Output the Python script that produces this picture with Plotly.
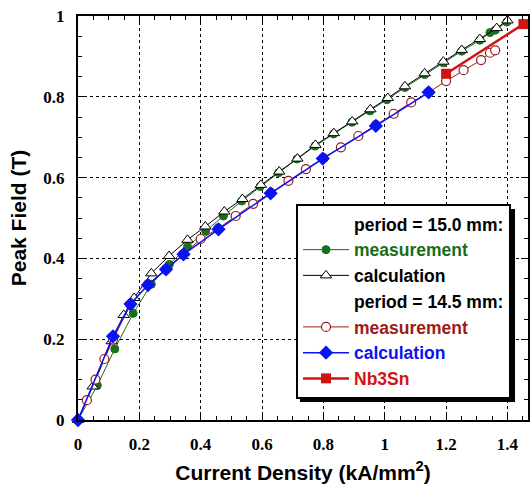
import plotly.graph_objects as go

# period = 15.0 mm, measurement
x_meas150 = [0, 0.063, 0.12, 0.18, 0.239, 0.298, 0.357, 0.416, 0.474, 0.534, 0.594, 0.654,
             0.714, 0.773, 0.833, 0.893, 0.952, 1.007, 1.066, 1.13, 1.191, 1.251, 1.31,
             1.343, 1.36, 1.398]
y_meas150 = [0, 0.0855, 0.176, 0.264, 0.336, 0.385, 0.429, 0.468, 0.505, 0.542, 0.578, 0.612,
             0.646, 0.678, 0.708, 0.737, 0.765, 0.793, 0.823, 0.855, 0.884, 0.913, 0.94,
             0.959, 0.965, 0.985]

# period = 15.0 mm, calculation
x_calc150 = [0, 0.048, 0.11, 0.149, 0.183, 0.239, 0.297, 0.357, 0.415, 0.477, 0.536, 0.596,
             0.656, 0.715, 0.774, 0.834, 0.894, 0.953, 1.01, 1.066, 1.13, 1.191, 1.251,
             1.31, 1.365, 1.4]
y_calc150 = [0, 0.083, 0.195, 0.26, 0.302, 0.363, 0.406, 0.446, 0.479, 0.516, 0.547, 0.582,
             0.615, 0.647, 0.681, 0.71, 0.739, 0.769, 0.797, 0.826, 0.858, 0.887, 0.916,
             0.943, 0.97, 0.989]

# period = 14.5 mm, measurement
x_meas145 = [0, 0.029, 0.057, 0.086, 0.114, 0.171, 0.228, 0.286, 0.343, 0.4, 0.457, 0.514,
             0.571, 0.629, 0.686, 0.743, 0.8, 0.857, 0.914, 0.971, 1.029, 1.086, 1.143,
             1.2, 1.257, 1.314, 1.343, 1.36]
y_meas145 = [0, 0.049, 0.1, 0.151, 0.199, 0.285, 0.336, 0.372, 0.41, 0.448, 0.474, 0.505,
             0.535, 0.562, 0.592, 0.621, 0.648, 0.675, 0.703, 0.73, 0.758, 0.786, 0.811,
             0.839, 0.866, 0.891, 0.909, 0.915]

# period = 14.5 mm, calculation
x_calc145 = [0, 0.114, 0.171, 0.228, 0.287, 0.344, 0.458, 0.628, 0.798, 0.971, 1.143]
y_calc145 = [0, 0.207, 0.287, 0.334, 0.373, 0.41, 0.472, 0.561, 0.647, 0.728, 0.811]

# Nb3Sn
x_nb3sn = [1.2, 1.452]
y_nb3sn = [0.857, 0.98]

GREEN = "#1a6e1a"
DARKRED = "#9e1a1a"
BLUE = "#0a14f0"
RED = "#d01414"

fig = go.Figure()

def header(text, group):
    fig.add_trace(go.Scatter(x=[None], y=[None], mode="lines", name=text,
                             line=dict(color="rgba(0,0,0,0)", width=0),
                             legendgroup=group, hoverinfo="skip"))

header("period = 15.0 mm:", "g1")
fig.add_trace(go.Scatter(x=x_meas150, y=y_meas150, mode="lines+markers",
                         name='<span style="color:%s">measurement</span>' % GREEN,
                         line=dict(color=GREEN, width=1),
                         marker=dict(symbol="circle", size=8, color=GREEN,
                                     line=dict(color=GREEN, width=1)),
                         legendgroup="g2", cliponaxis=False))
fig.add_trace(go.Scatter(x=x_calc150, y=y_calc150, mode="lines+markers",
                         name="calculation",
                         line=dict(color="black", width=1),
                         marker=dict(symbol="triangle-up", size=10, color="white",
                                     line=dict(color="black", width=1)),
                         legendgroup="g3", cliponaxis=False))
header("period = 14.5 mm:", "g4")
fig.add_trace(go.Scatter(x=x_meas145, y=y_meas145, mode="lines+markers",
                         name='<span style="color:%s">measurement</span>' % DARKRED,
                         line=dict(color=DARKRED, width=1),
                         marker=dict(symbol="circle", size=9, color="white",
                                     line=dict(color=DARKRED, width=1.2)),
                         legendgroup="g5", cliponaxis=False))
fig.add_trace(go.Scatter(x=x_calc145, y=y_calc145, mode="lines+markers",
                         name='<span style="color:%s">calculation</span>' % BLUE,
                         line=dict(color=BLUE, width=1.5),
                         marker=dict(symbol="diamond", size=11, color=BLUE,
                                     line=dict(color=BLUE, width=0)),
                         legendgroup="g6", cliponaxis=False))
fig.add_trace(go.Scatter(x=x_nb3sn, y=y_nb3sn, mode="lines+markers",
                         name='<span style="color:%s">Nb3Sn</span>' % RED,
                         line=dict(color=RED, width=2.5),
                         marker=dict(symbol="square", size=10, color=RED),
                         legendgroup="g7", cliponaxis=False))

# plot area in pixels: x 78..528, y 16..420
L, R, T, B = 78, 4, 16, 69
W, H = 532, 489
pw, ph = W - L - R, H - T - B

def px2paper_x(px):
    return (px - L) / pw

def px2paper_y(py):
    return (H - B - py) / ph

# legend drop shadow
fig.add_shape(type="rect", xref="paper", yref="paper",
              x0=px2paper_x(300), x1=px2paper_x(515),
              y0=px2paper_y(402), y1=px2paper_y(209),
              fillcolor="black", line=dict(width=0), layer="above")

axis_common = dict(
    showline=True, linecolor="black", linewidth=2, mirror="allticks",
    ticks="inside", ticklen=7, tickwidth=1, tickcolor="black",
    showgrid=True, gridcolor="black", gridwidth=1, griddash="dot",
    zeroline=False,
    tickfont=dict(family="Liberation Serif", size=17, color="black", weight="bold"),
    minor=dict(ticks="inside", ticklen=4, tickwidth=1, tickcolor="black", showgrid=False),
)

fig.update_xaxes(range=[0, 1.467], dtick=0.2, tick0=0, minor_dtick=0.05,
                 title=dict(text="Current Density (kA/mm<sup>2</sup>)", standoff=12,
                            font=dict(family="Liberation Sans", size=21, color="black", weight="bold")),
                 ticklabelstandoff=8,
                 **axis_common)
fig.update_yaxes(range=[0, 1], dtick=0.2, tick0=0, minor_dtick=0.05,
                 title=dict(text="Peak Field (T)", standoff=11,
                            font=dict(family="Liberation Sans", size=21, color="black", weight="bold")),
                 ticklabelstandoff=8,
                 **axis_common)

fig.update_layout(
    width=W, height=H,
    margin=dict(l=L, r=R, t=T, b=B, autoexpand=False),
    paper_bgcolor="white", plot_bgcolor="white",
    showlegend=True,
    legend=dict(x=px2paper_x(296), y=px2paper_y(204), xanchor="left", yanchor="top",
                bgcolor="white", bordercolor="black", borderwidth=2,
                font=dict(family="Liberation Sans", size=17.5, color="black", weight="bold"),
                tracegroupgap=6.5, itemwidth=46, traceorder="normal"),
)

fig.write_html("out.html", config={"displayModeBar": False},
               post_script="document.body.style.margin='0px';document.body.style.overflow='hidden';")
